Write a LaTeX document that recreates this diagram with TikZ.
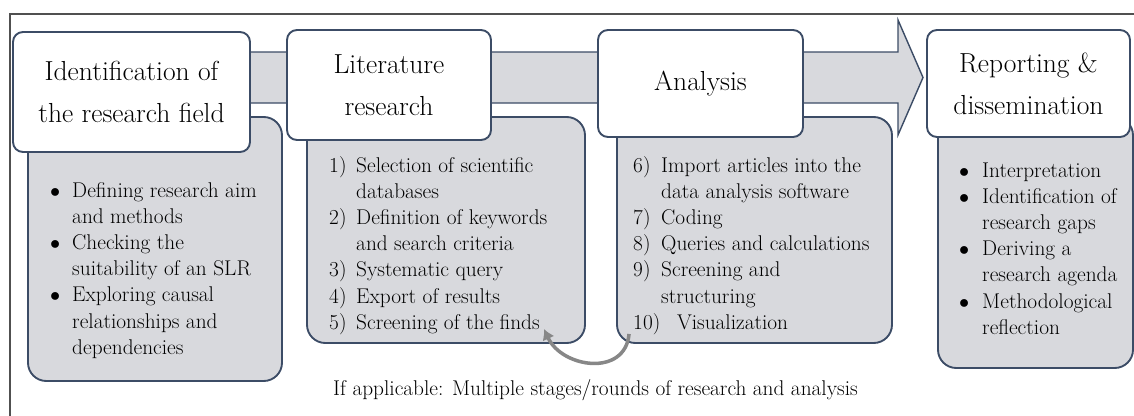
\documentclass[tikz,border=0pt]{standalone}
\usepackage{tikz}
\usetikzlibrary{arrows.meta}
\definecolor{boxline}{RGB}{60,76,102}
\definecolor{boxfill}{RGB}{216,217,221}
\definecolor{framegray}{RGB}{80,80,80}
\definecolor{loopgray}{RGB}{135,135,135}

\begin{document}
\begin{tikzpicture}[x=0.03cm,y=-0.03cm,
  stage/.style={draw=boxline,line width=1.6pt,fill=white,rounded corners=0.3cm,align=center,inner sep=0pt,font=\fontsize{23.5}{36}\selectfont},
  tasks/.style={draw=boxline,line width=1.6pt,fill=boxfill,rounded corners=0.55cm,inner sep=0pt},
  steps/.style={anchor=base west,inner sep=0pt,font=\fontsize{18.2}{22.4}\selectfont}]
\useasboundingbox (0,0) rectangle (1134,416);
%frame
\draw[framegray, line width=1pt] (10,416) -- (10,14) -- (1134,14);
%big arrow
\draw[draw=boxline, line width=1.2pt, fill=boxfill] (200,52) -- (898,52) -- (898,20) -- (923,77.5) -- (898,135) -- (898,103) -- (200,103) -- cycle;
%task boxes
\node[tasks, minimum width=7.62cm, minimum height=7.92cm] (fieldbox) at (155,249) {};
\node[tasks, minimum width=8.34cm, minimum height=6.78cm] (searchbox) at (446,230) {};
\node[tasks, minimum width=8.25cm, minimum height=6.78cm] (anabox) at (754.5,230) {};
\node[tasks, minimum width=5.85cm, minimum height=7.53cm] (reportbox) at (1035.5,242.5) {};
%stages
\node[stage, minimum width=7.11cm, minimum height=3.6cm] (field) at (131.5,92) {Identification of\\the research field};
\node[stage, minimum width=6.12cm, minimum height=3.3cm] (search) at (389,85) {Literature\\research};
\node[stage, minimum width=6.15cm, minimum height=3.21cm] (ana) at (700.5,83.5) {Analysis};
\node[stage, minimum width=6.09cm, minimum height=3.21cm] (report) at (1028.5,83.5) {Reporting \&\\dissemination};
%lists
\node[steps] (fieldlist) at (50,197) {\begin{tabular}[t]{@{}p{0.66cm}@{}l@{}}
$\bullet$ & Defining research aim\\
 & and methods\\
$\bullet$ & Checking the\\
 & suitability of an SLR\\
$\bullet$ & Exploring causal\\
 & relationships and\\
 & dependencies
\end{tabular}};
\node[steps] (searchlist) at (329,172) {\begin{tabular}[t]{@{}p{0.81cm}@{}l@{}}
1) & Selection of scientific\\
 & databases\\
2) & Definition of keywords\\
 & and search criteria\\
3) & Systematic query\\
4) & Export of results\\
5) & Screening of the finds
\end{tabular}};
\node[steps] (analist) at (633,172) {\begin{tabular}[t]{@{}p{0.84cm}@{}l@{}}
6) & Import articles into the\\
 & data analysis software\\
7) & Coding\\
8) & Queries and calculations\\
9) & Screening and\\
 & structuring\\
\multicolumn{2}{@{}l@{}}{10)\hspace{0.5cm}Visualization}
\end{tabular}};
\node[steps] (reportlist) at (959,177) {\begin{tabular}[t]{@{}p{0.69cm}@{}l@{}}
$\bullet$ & Interpretation\\
$\bullet$ & Identification of\\
 & research gaps\\
$\bullet$ & Deriving a\\
 & research agenda\\
$\bullet$ & Methodological\\
 & reflection
\end{tabular}};
%note
\node[anchor=base, inner sep=0pt, font=\fontsize{18.2}{21}\selectfont] (note) at (595.5,395) {If applicable: Multiple stages/rounds of research and analysis};
%loop
\coordinate (loopstart) at ([shift={(0.39cm,0.3cm)}]anabox.south west);
\coordinate (loopend) at ([shift={(-1.26cm,0.45cm)}]searchbox.south east);
\draw[loopgray, line width=3pt, -{Latex[length=9pt,width=11pt]}] (loopstart) to[out=-95, in=-65, looseness=1.3] (loopend);
\end{tikzpicture}
\end{document}
